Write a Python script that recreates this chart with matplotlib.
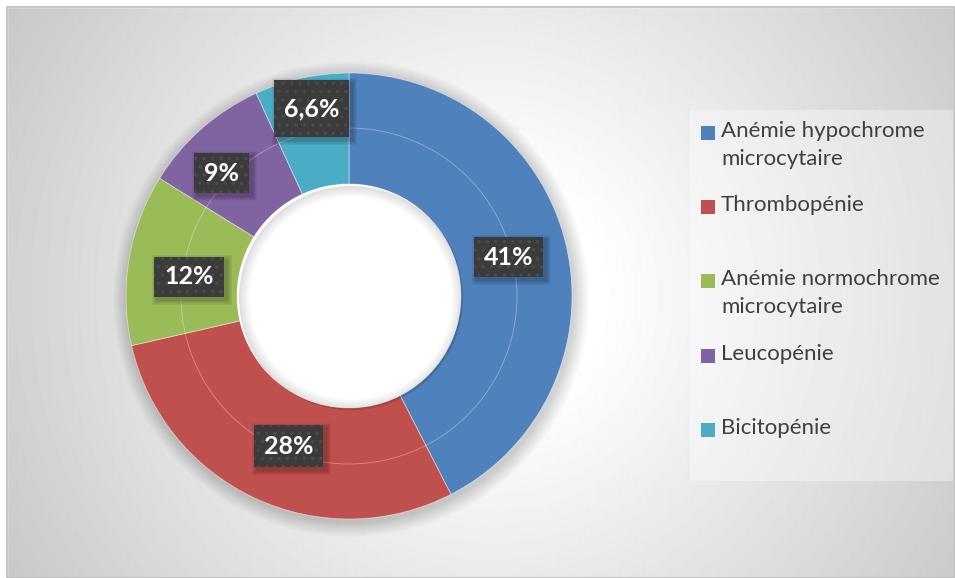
import matplotlib
matplotlib.use("Agg")
import matplotlib.pyplot as plt
from matplotlib.patches import Rectangle, Circle, Wedge
import numpy as np

plt.rcParams["font.family"] = ["Lato", "DejaVu Sans"]
plt.rcParams["hatch.linewidth"] = 1.3

# data
categories = [
    "Anémie hypochrome\nmicrocytaire",
    "Thrombopénie",
    "Anémie normochrome\nmicrocytaire",
    "Leucopénie",
    "Bicitopénie",
]
values = [41, 28, 12, 9, 6.6]
value_labels = ["41%", "28%", "12%", "9%", "6,6%"]
colors = ["#4f81bd", "#c0504d", "#9bbb59", "#8064a2", "#4bacc6"]

# label placement: radius, clockwise nudge of the angle (deg), box height
label_radius = [164, 162, 161, 177, 191]
label_nudge = [0, -3, -2.7, -4.7, 1]
label_box_h = [40, 42, 40, 40, 57]

W, H = 955, 578
fig = plt.figure(figsize=(W / 100, H / 100), dpi=100)

# background with radial gradient
bg = fig.add_axes([0, 0, 1, 1], zorder=0)
bg.set_axis_off()
yy, xx = np.mgrid[0:H, 0:W]
d = np.hypot(xx - 490, yy - 295)
shade = 1 - 0.00048 * np.clip(d - 110, 0, None)
bg.imshow(shade, cmap="gray", vmin=0, vmax=1, extent=[0, W, 0, H], origin="upper", aspect="auto")
bg.set_xlim(0, W)
bg.set_ylim(0, H)
bg.add_patch(Rectangle((0, H - 7), W, 7, color="white", zorder=2))
bg.add_patch(Rectangle((0, 0), 7, H, color="white", zorder=2))
bg.add_patch(Rectangle((7, 0), W - 7, H - 7, fill=False, edgecolor="#bdbdbd", lw=1.2, zorder=3))

ax = fig.add_axes([0, 0, 1, 1], zorder=1)
ax.patch.set_alpha(0)

cx, cy = 349, H - 296
r_out, r_in = 223, 112

# soft shadow around the ring
for k in range(1, 16):
    ax.add_patch(Circle((cx + 2, cy - 3), r_out + k, color="black", alpha=0.011, lw=0))

wedges, _ = ax.pie(
    values,
    colors=colors,
    startangle=90,
    counterclock=False,
    radius=r_out,
    center=(cx, cy),
    wedgeprops=dict(width=r_out - r_in, edgecolor=(1, 1, 1, 0.5), linewidth=0.6),
)

# hole with a light inner shadow
ax.add_patch(Circle((cx, cy), r_in, color="white", lw=0, zorder=3))
for k in range(1, 12):
    ax.add_patch(Wedge((cx + 2, cy - 2), r_in, 0, 360, width=k, color="black", alpha=0.012, lw=0, zorder=3))

# faint line between the two rings
ax.add_patch(Circle((cx, cy), 168, fill=False, edgecolor=(1, 1, 1, 0.35), lw=0.6, zorder=4))

# value labels
texts = []
for w, lab, rr, nd in zip(wedges, value_labels, label_radius, label_nudge):
    ang = np.deg2rad((w.theta1 + w.theta2) / 2 - nd)
    x = cx + rr * np.cos(ang)
    y = cy + rr * np.sin(ang)
    texts.append(ax.text(x, y, lab, ha="center", va="center", fontsize=18,
                         fontweight="bold", color="white", zorder=8))

ax.set_xlim(0, W)
ax.set_ylim(0, H)
ax.set_axis_off()

fig.canvas.draw()
renderer = fig.canvas.get_renderer()
inv = ax.transData.inverted()
for t, bh in zip(texts, label_box_h):
    bb = t.get_window_extent(renderer).transformed(inv)
    ymid = (bb.y0 + bb.y1) / 2
    x0, y0 = bb.x0 - 10, ymid - bh / 2
    bw = bb.width + 20
    for k in range(1, 6):
        ax.add_patch(Rectangle((x0 + 3 - k, y0 - 3 - k), bw + 2 * k, bh + 2 * k,
                               color="black", alpha=0.05, lw=0, zorder=6))
    ax.add_patch(Rectangle((x0, y0), bw, bh, facecolor="#3b3b3b", edgecolor="#4a4a4a",
                           hatch="..", lw=0, zorder=7))

# legend drawn by hand to keep the even spacing of the reference
ax.add_patch(Rectangle((690, H - 481), 263, 371, facecolor="white", alpha=0.35, lw=0, zorder=5))
for i, (lab, c) in enumerate(zip(categories, colors)):
    ytop = H - 133 - 74.2 * i
    ax.add_patch(Rectangle((701, ytop - 7), 14, 14, facecolor=c, lw=0, zorder=6))
    ax.text(721, ytop + 12, lab, ha="left", va="top", fontsize=16, color="#404040",
            linespacing=1.5, zorder=6)

fig.savefig("out.png", dpi=100)
